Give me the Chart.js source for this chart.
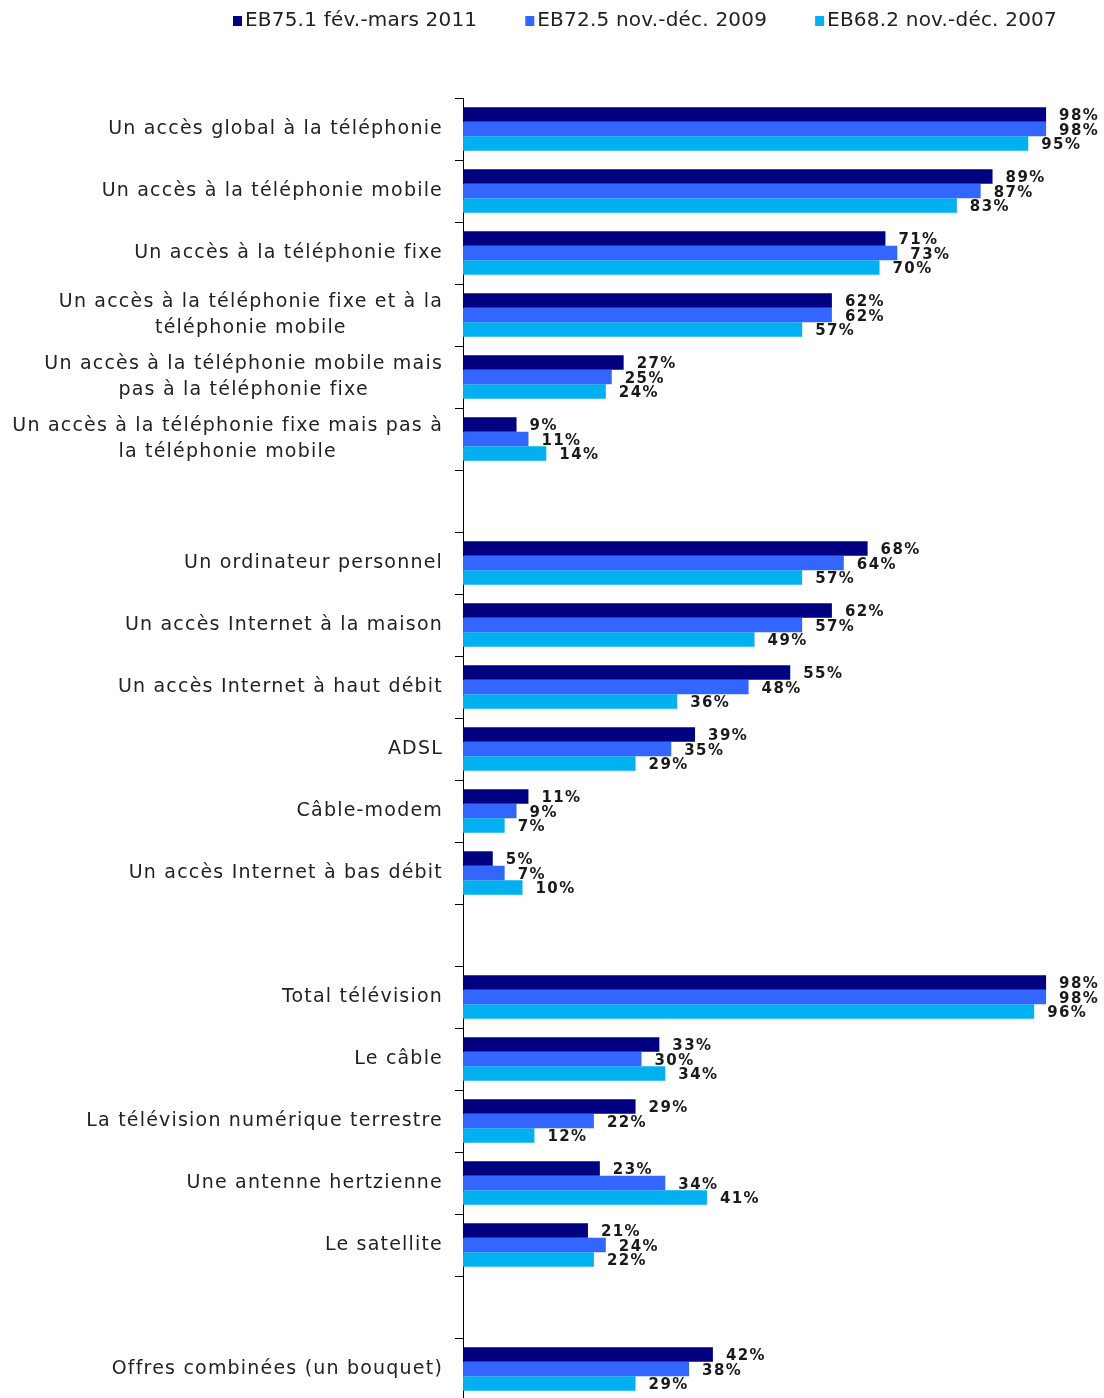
<!DOCTYPE html>
<html><head><meta charset="utf-8">
<script src="https://cdn.jsdelivr.net/npm/chart.js@4.4.1/dist/chart.umd.min.js"></script>
<style>html,body{margin:0;padding:0;background:#fff;overflow:hidden;} canvas{display:block;}</style>
</head><body>
<canvas id="c" width="1104" height="1410"></canvas>
<script>
const categories = [
  ['Un accès global à la téléphonie'],
  ['Un accès à la téléphonie mobile'],
  ['Un accès à la téléphonie fixe'],
  ['Un accès à la téléphonie fixe et à la', 'téléphonie mobile'],
  ['Un accès à la téléphonie mobile mais', 'pas à la téléphonie fixe'],
  ['Un accès à la téléphonie fixe mais pas à', 'la téléphonie mobile'],
  [''],
  ['Un ordinateur personnel'],
  ['Un accès Internet à la maison'],
  ['Un accès Internet à haut débit'],
  ['ADSL'],
  ['Câble-modem'],
  ['Un accès Internet à bas débit'],
  [''],
  ['Total télévision'],
  ['Le câble'],
  ['La télévision numérique terrestre'],
  ['Une antenne hertzienne'],
  ['Le satellite'],
  [''],
  ['Offres combinées (un bouquet)']
];
const seriesNames = ['EB75.1 fév.-mars 2011', 'EB72.5 nov.-déc. 2009', 'EB68.2 nov.-déc. 2007'];
const values2011 = [98, 89, 71, 62, 27, 9, null, 68, 62, 55, 39, 11, 5, null, 98, 33, 29, 23, 21, null, 42];
const values2009 = [98, 87, 73, 62, 25, 11, null, 64, 57, 48, 35, 9, 7, null, 98, 30, 22, 34, 24, null, 38];
const values2007 = [95, 83, 70, 57, 24, 14, null, 57, 49, 36, 29, 7, 10, null, 96, 34, 12, 41, 22, null, 29];
const seriesColors = ['#000080', '#3366FF', '#00B0F0'];

const catLabelPlugin = {
  id: 'catLabels',
  afterDraw(chart) {
    const ctx = chart.ctx;
    const ys = chart.scales.y;
    ctx.save();
    ctx.font = '19px "DejaVu Sans"';
    ctx.letterSpacing = '1.2px';
    ctx.fillStyle = '#222';
    ctx.textBaseline = 'middle';
    ctx.textAlign = 'center';
    chart.data.labels.forEach((lab, i) => {
      const lines = Array.isArray(lab) ? lab : [lab];
      if (!lines.join('')) return;
      const y = ys.getPixelForValue(i);
      const maxW = Math.max(...lines.map(l => ctx.measureText(l).width));
      const right = ys.right - 20;
      lines.forEach((l, k) => {
        const cy = y + (k - (lines.length - 1) / 2) * 26;
        ctx.fillText(l, right - maxW / 2, cy);
      });
    });
    ctx.restore();
  }
};

const valueLabelPlugin = {
  id: 'valueLabels',
  afterDatasetsDraw(chart) {
    const ctx = chart.ctx;
    ctx.save();
    ctx.font = 'bold 15px "DejaVu Sans"';
    ctx.letterSpacing = '1.4px';
    ctx.fillStyle = '#1a1a1a';
    ctx.textBaseline = 'middle';
    ctx.textAlign = 'left';
    chart.data.datasets.forEach((ds, di) => {
      const meta = chart.getDatasetMeta(di);
      meta.data.forEach((bar, i) => {
        const v = ds.data[i];
        if (v === null || v === undefined) return;
        ctx.fillText(v + '%', bar.x + 13, bar.y + 2);
      });
    });
    ctx.restore();
  }
};

const legendPlugin = {
  id: 'customLegend',
  afterDraw(chart) {
    const ctx = chart.ctx;
    ctx.save();
    ctx.font = '20px "DejaVu Sans"';
    ctx.letterSpacing = '0.2px';
    ctx.textBaseline = 'middle';
    ctx.textAlign = 'left';
    let x = 233;
    const y = 21;
    chart.data.datasets.forEach(ds => {
      ctx.fillStyle = ds.backgroundColor;
      ctx.fillRect(x, y - 5, 9, 10);
      ctx.fillStyle = '#222';
      ctx.fillText(ds.label, x + 12, y);
      x += 12 + ctx.measureText(ds.label).width + 48;
    });
    ctx.restore();
  }
};

new Chart(document.getElementById('c'), {
  type: 'bar',
  data: {
    labels: categories,
    datasets: [
      { label: seriesNames[0], data: values2011, backgroundColor: seriesColors[0] },
      { label: seriesNames[1], data: values2009, backgroundColor: seriesColors[1] },
      { label: seriesNames[2], data: values2007, backgroundColor: seriesColors[2] }
    ]
  },
  options: {
    indexAxis: 'y',
    responsive: false,
    animation: false,
    devicePixelRatio: 1,
    layout: { padding: { top: 98, right: 46, bottom: 10, left: 0 } },
    datasets: { bar: { categoryPercentage: 0.7, barPercentage: 1.0 } },
    plugins: { legend: { display: false }, tooltip: { enabled: false } },
    scales: {
      x: { display: false, min: 0, max: 100 },
      y: {
        grid: { display: true, drawOnChartArea: false, drawTicks: true, tickLength: 8, color: '#000', lineWidth: 1, offset: true },
        border: { display: true, color: '#000', width: 1 },
        ticks: { display: false },
        afterFit(s) { s.width = 463; }
      }
    }
  },
  plugins: [catLabelPlugin, valueLabelPlugin, legendPlugin]
});
</script>
</body></html>
